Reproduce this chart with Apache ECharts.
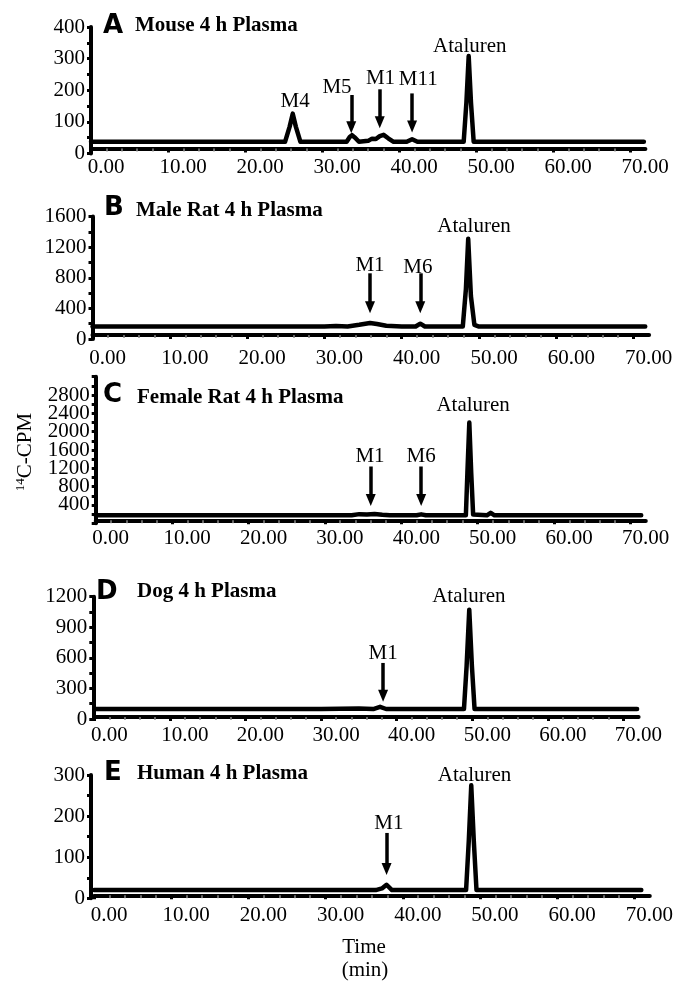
<!DOCTYPE html>
<html>
<head>
<meta charset="utf-8">
<script src="https://cdn.jsdelivr.net/npm/echarts@6/dist/echarts.min.js"></script>
<style>html,body{margin:0;padding:0;background:#fff;}#chart{width:677px;height:981px;}</style>
</head>
<body>
<div id="chart"></div>
<script>
// ---- data ----
const xTicks = [0, 10, 20, 30, 40, 50, 60, 70];

const timeA = [0, 10, 20, 25.2, 25.8, 26.2, 26.6, 27.2, 30, 33.2, 33.6, 33.9, 34.3, 34.8, 36.0, 36.5, 37.0, 37.5, 38.0, 38.6, 39.3, 41.0, 41.7, 42.4, 48.4, 48.75, 49.05, 49.35, 49.7, 60, 71.8];
const cpmA  = [37, 37, 37, 37, 85, 126, 85, 37, 37, 37, 52, 58, 50, 37, 40, 47, 46, 55, 59, 48, 37, 37, 45, 37, 37, 160, 308, 160, 37, 37, 37];

const timeB = [0, 20, 30, 31.5, 33, 34.5, 35.9, 36.8, 38, 40, 41.8, 42.4, 43, 47.9, 48.3, 48.6, 48.95, 49.4, 50, 71.5];
const cpmB  = [163, 163, 163, 170, 163, 185, 209, 195, 172, 163, 163, 200, 163, 163, 650, 1309, 560, 185, 163, 163];

const timeC = [0, 27, 30, 33.5, 34.5, 35.5, 36.5, 37.5, 38.5, 42.0, 42.6, 43.2, 48.45, 48.65, 48.9, 49.15, 49.4, 51.2, 51.7, 52.2, 71.4];
const cpmC  = [175, 175, 175, 175, 200, 190, 205, 185, 175, 175, 195, 175, 175, 1100, 2200, 1100, 190, 175, 230, 175, 175];

const timeD = [0, 30, 35, 36.9, 37.8, 38.6, 48.9, 49.25, 49.6, 49.95, 50.3, 71.8];
const cpmD  = [98, 98, 102, 98, 120, 98, 98, 520, 1073, 520, 98, 98];

const timeE = [0, 36.5, 37.3, 37.9, 38.6, 48.2, 48.55, 48.87, 49.2, 49.55, 70.9];
const cpmE  = [20, 20, 24, 33, 20, 20, 140, 275, 140, 20, 20];

// peak annotations: [text, time, cpm]
const labelsA = [['M4', 26.5, 164], ['M5', 31.95, 210], ['M1', 37.6, 238], ['M11', 42.5, 233], ['Ataluren', 49.2, 338]];
const labelsB = [['M1', 35.9, 966], ['M6', 42.1, 940], ['Ataluren', 49.35, 1466]];
const labelsC = [['M1', 35.9, 1469], ['M6', 42.6, 1469], ['Ataluren', 49.4, 2563]];
const labelsD = [['M1', 38.2, 645], ['Ataluren', 49.55, 1200]];
const labelsE = [['M1', 38.2, 182], ['Ataluren', 49.3, 300]];
// arrows: [time, fromCpm, toCpm]
const arrowsA = [[33.8, 185, 83], [37.5, 203, 99], [41.7, 190, 85]];
const arrowsB = [[35.9, 858, 414], [42.4, 858, 414]];
const arrowsC = [[36.0, 1240, 509], [42.6, 1240, 509]];
const arrowsD = [[38.2, 550, 229]];
const arrowsE = [[37.9, 159, 71]];

const letters = ['A', 'B', 'C', 'D', 'E'];
const titles = ['Mouse 4 h Plasma', 'Male Rat 4 h Plasma', 'Female Rat 4 h Plasma', 'Dog 4 h Plasma', 'Human 4 h Plasma'];
const yMaxes = [400, 1600, 3200, 1200, 300];
const yIntervals = [100, 400, 400, 300, 100];
const xMax = 72;

// ---- layout / style ----
const SERIF = '"Liberation Serif", "Times New Roman", serif';
const INK = '#000000';
const layout = [
  {grid: {left: 91, top: 27, width: 554.4, height: 126.5}, xOff: -5, xMargin: 8, yOff: 0, letter: [103, 26], title: [135, 26]},
  {grid: {left: 92.5, top: 216.5, width: 556.6, height: 122.5}, xOff: -4, xMargin: 13, yOff: 0, letter: [104, 208], title: [136, 211]},
  {grid: {left: 95.7, top: 376.7, width: 550.1, height: 146.6}, xOff: -3, xMargin: 7.5, yOff: 0, letter: [103, 395], title: [137, 398]},
  {grid: {left: 94.3, top: 596.7, width: 544.3, height: 122.3}, xOff: -2, xMargin: 7.5, yOff: 1, letter: [96, 592], title: [137, 592]},
  {grid: {left: 94, top: 775, width: 555.8, height: 123.3}, xOff: -3, xMargin: 9.5, yOff: 3, letter: [104, 773], title: [137, 774]}
];
const times = [timeA, timeB, timeC, timeD, timeE];
const cpms = [cpmA, cpmB, cpmC, cpmD, cpmE];
const labels = [labelsA, labelsB, labelsC, labelsD, labelsE];
const arrows = [arrowsA, arrowsB, arrowsC, arrowsD, arrowsE];

const grids = [], xAxes = [], yAxes = [], series = [], graphics = [];
layout.forEach((L, i) => {
  grids.push(Object.assign({containLabel: false}, L.grid));
  xAxes.push({
    type: 'value', gridIndex: i, min: 0, max: xMax, interval: 10, offset: L.xOff,
    axisLine: {onZero: false, lineStyle: {color: INK, width: 4}},
    axisTick: {show: true, length: 4, lineStyle: {color: INK, width: 3}, customValues: xTicks},
    minorTick: {show: true, splitNumber: 5, length: 3, lineStyle: {color: '#888', width: 1.5}},
    splitLine: {show: false},
    axisLabel: {
      fontFamily: SERIF, fontSize: 21, color: INK, margin: L.xMargin,
      padding: [0, 0, 0, 30], customValues: xTicks,
      formatter: v => (v % 10 === 0 && v <= 70 ? v.toFixed(2) : '')
    }
  });
  yAxes.push({
    type: 'value', gridIndex: i, min: 0, max: yMaxes[i], interval: yIntervals[i], offset: L.yOff,
    axisLine: {show: true, onZero: false, lineStyle: {color: INK, width: 4}},
    axisTick: {show: true, length: 4, lineStyle: {color: INK, width: 3}},
    minorTick: {show: true, splitNumber: 2, length: 4, lineStyle: {color: INK, width: 3}},
    splitLine: {show: false},
    axisLabel: {fontFamily: SERIF, fontSize: 21, color: INK, margin: 6, showMaxLabel: i !== 2,
      formatter: v => String(v)}
  });
  series.push({
    type: 'line', xAxisIndex: i, yAxisIndex: i, showSymbol: false, symbol: 'none', smooth: false,
    data: times[i].map((t, k) => [t, cpms[i][k]]),
    lineStyle: {color: INK, width: 4.5, join: 'round', cap: 'round'},
    silent: true,
    markLine: {
      silent: true, animation: false,
      label: {show: false},
      lineStyle: {color: INK, width: 3.5, type: 'solid'},
      data: arrows[i].map(a => [
        {coord: [a[0], a[1]], symbol: 'none'},
        {coord: [a[0], a[2]], symbol: 'triangle', symbolSize: [10, 12]}
      ])
    }
  });
  series.push({
    type: 'scatter', xAxisIndex: i, yAxisIndex: i, symbolSize: 0, silent: true,
    itemStyle: {color: INK, opacity: 1},
    label: {show: true, position: 'inside', formatter: '{b}', fontFamily: SERIF, fontSize: 21, color: INK,
      opacity: 1, textBorderWidth: 0},
    data: labels[i].map(l => ({name: l[0], value: [l[1], l[2]]}))
  });
  graphics.push({
    type: 'text', x: L.letter[0], y: L.letter[1],
    style: {text: letters[i], fill: INK, font: 'bold 26px "DejaVu Sans", "Liberation Sans", sans-serif', align: 'left', verticalAlign: 'middle'}
  });
  graphics.push({
    type: 'text', x: L.title[0], y: L.title[1],
    style: {text: titles[i], fill: INK, font: 'bold 21px ' + SERIF, align: 'left', verticalAlign: 'middle'}
  });
});

graphics.push({
  type: 'text', x: 25, y: 452, rotation: Math.PI / 2,
  style: {
    text: '{s|14}{m|C-CPM}', fill: INK, align: 'center', verticalAlign: 'middle',
    rich: {
      s: {fontSize: 13, fontFamily: 'Liberation Serif', verticalAlign: 'top', lineHeight: 22, fill: INK},
      m: {fontSize: 21, fontFamily: 'Liberation Serif', lineHeight: 22, fill: INK}
    }
  }
});
graphics.push({type: 'text', x: 364, y: 947, style: {text: 'Time', fill: INK, font: '21px ' + SERIF, align: 'center', verticalAlign: 'middle'}});
graphics.push({type: 'text', x: 365, y: 970, style: {text: '(min)', fill: INK, font: '21px ' + SERIF, align: 'center', verticalAlign: 'middle'}});

const chart = echarts.init(document.getElementById('chart'), null, {renderer: 'canvas'});
chart.setOption({
  animation: false,
  backgroundColor: '#ffffff',
  grid: grids, xAxis: xAxes, yAxis: yAxes, series: series, graphic: graphics
});
</script>
</body>
</html>
